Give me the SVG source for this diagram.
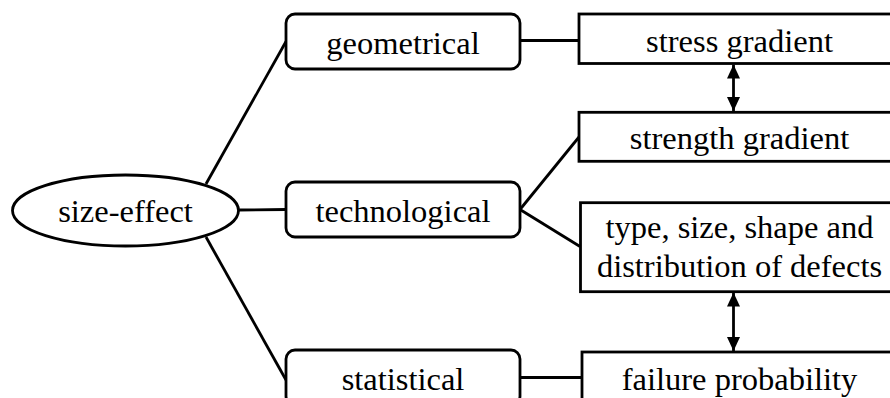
<svg xmlns="http://www.w3.org/2000/svg" width="890" height="398" viewBox="0 0 890 398">
<style>
.shape{fill:#fff;stroke:#000;stroke-width:2.8}
.conn{fill:none;stroke:#000;stroke-width:2.8}
.lbl{font-family:"Liberation Serif","DejaVu Serif","Times New Roman",serif;font-size:32.5px;fill:#000;text-anchor:middle}
</style>
<defs>
<marker id="ah" viewBox="0 0 14 14" refX="14" refY="7" markerWidth="14" markerHeight="14" markerUnits="userSpaceOnUse" orient="auto-start-reverse">
<path d="M0,0.5 L14,7 L0,13.5 Z" fill="#000"/>
</marker>
</defs>
<rect width="890" height="398" fill="#fff"/>
<g id="connectors">
<line class="conn" x1="206" y1="184" x2="286" y2="41.5"/>
<line class="conn" x1="239" y1="210" x2="286" y2="209.5"/>
<line class="conn" x1="206" y1="237" x2="286" y2="380"/>
<line class="conn" x1="520" y1="40.5" x2="579" y2="40.5"/>
<line class="conn" x1="520" y1="209.5" x2="579" y2="137"/>
<line class="conn" x1="520" y1="209.5" x2="580" y2="246.5"/>
<line class="conn" x1="520" y1="377.5" x2="582" y2="377.5"/>
<line class="conn" x1="733.5" y1="64.5" x2="733.5" y2="111" marker-start="url(#ah)" marker-end="url(#ah)"/>
<line class="conn" x1="733.5" y1="292.5" x2="733.5" y2="351" marker-start="url(#ah)" marker-end="url(#ah)"/>
</g>
<g id="size-effect">
<ellipse class="shape" cx="125.5" cy="210.5" rx="113" ry="35.5"/>
<text class="lbl" x="125.5" y="221.5">size-effect</text>
</g>
<g id="geometrical">
<rect class="shape" x="286" y="14" width="234" height="55" rx="9"/>
<text class="lbl" x="403" y="53.5">geometrical</text>
</g>
<g id="technological">
<rect class="shape" x="286" y="182" width="234" height="55" rx="9"/>
<text class="lbl" x="403" y="221.5">technological</text>
</g>
<g id="statistical">
<rect class="shape" x="286" y="350" width="234" height="55" rx="9"/>
<text class="lbl" x="403" y="390">statistical</text>
</g>
<g id="stress-gradient">
<rect class="shape" x="579" y="14" width="322" height="49.5"/>
<text class="lbl" x="739.5" y="51.5">stress gradient</text>
</g>
<g id="strength-gradient">
<rect class="shape" x="579" y="112.3" width="322" height="49"/>
<text class="lbl" x="739.5" y="149">strength gradient</text>
</g>
<g id="defects">
<rect class="shape" x="580.5" y="202.7" width="322" height="89"/>
<text class="lbl" x="739.5" y="238">type, size, shape and</text>
<text class="lbl" x="739.5" y="276.5">distribution of defects</text>
</g>
<g id="failure-probability">
<rect class="shape" x="582" y="352" width="322" height="55"/>
<text class="lbl" x="739.5" y="390">failure probability</text>
</g>
</svg>
